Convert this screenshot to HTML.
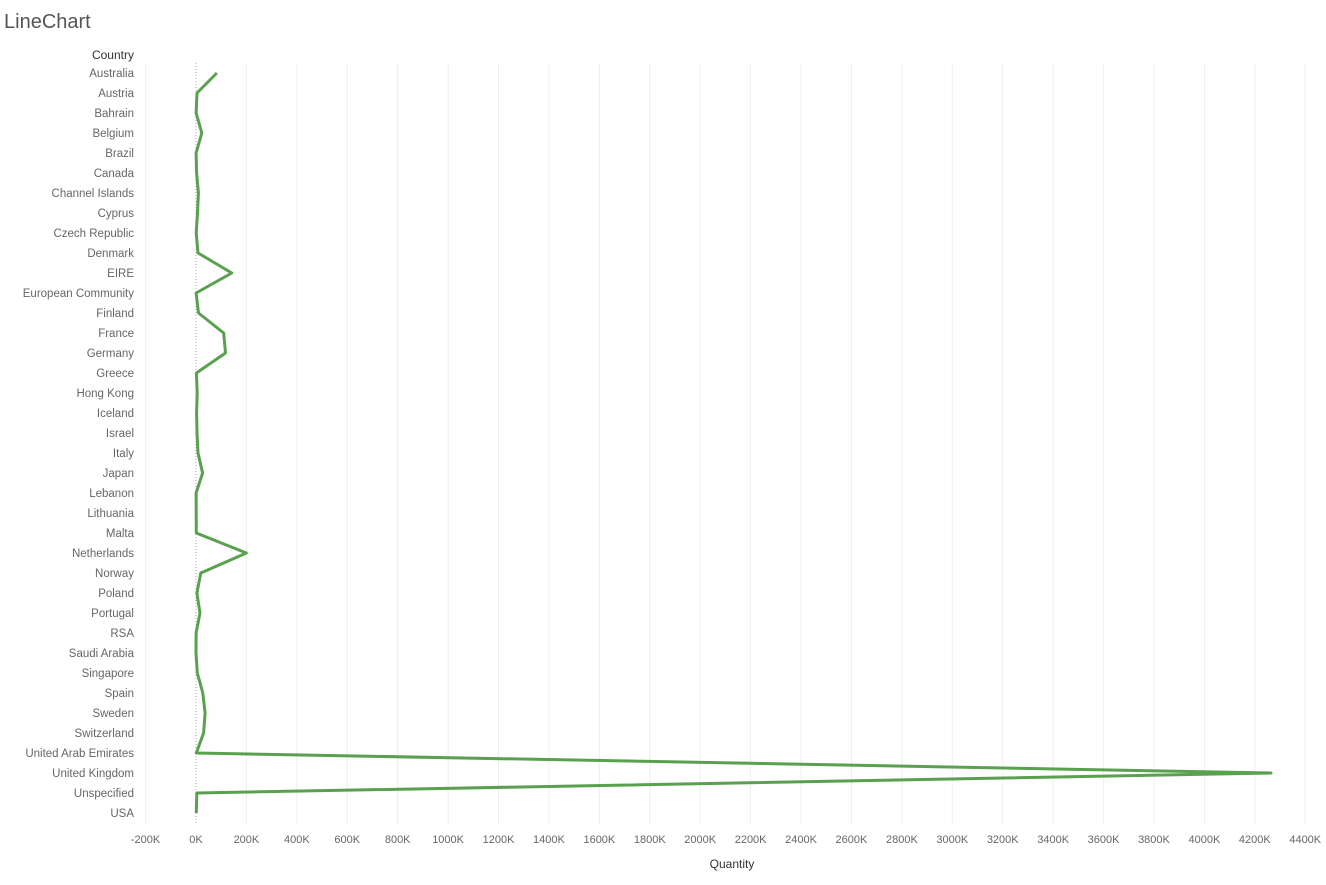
<!DOCTYPE html>
<html><head><meta charset="utf-8"><style>
body{margin:0;background:#fff;font-family:"Liberation Sans","DejaVu Sans",sans-serif;}
svg text{font-family:"Liberation Sans","DejaVu Sans",sans-serif;}
</style></head><body>
<svg id="c" width="1326" height="880">
<text x="4" y="28" font-size="20" fill="#555">LineChart</text>
<text x="134" y="59" font-size="12" fill="#333" text-anchor="end">Country</text>
<text x="732" y="868" font-size="12" fill="#333" text-anchor="middle">Quantity</text>
<g id="grid"></g><g id="ylab"></g><g id="xlab"></g><g id="series"></g>
</svg>
<script>
const countries=["Australia","Austria","Bahrain","Belgium","Brazil","Canada","Channel Islands","Cyprus","Czech Republic","Denmark","EIRE","European Community","Finland","France","Germany","Greece","Hong Kong","Iceland","Israel","Italy","Japan","Lebanon","Lithuania","Malta","Netherlands","Norway","Poland","Portugal","RSA","Saudi Arabia","Singapore","Spain","Sweden","Switzerland","United Arab Emirates","United Kingdom","Unspecified","USA"];
const quantity=[83,4,0.3,23,0.4,2.4,9.5,6,0.6,8,142,0.5,10,110,117,1.6,4.7,2.5,4,8,26,0.4,0.65,1,200,19,3.6,16,0.35,0.08,5,27,36,30,1,4264,3.3,1];
const xTicks=[-200,0,200,400,600,800,1000,1200,1400,1600,1800,2000,2200,2400,2600,2800,3000,3200,3400,3600,3800,4000,4200,4400];
const NS="http://www.w3.org/2000/svg";
const xs=v=>196+v*0.2521;
const ys=i=>73+i*20;
function mk(t,a,p){const e=document.createElementNS(NS,t);for(const k in a)e.setAttribute(k,a[k]);p.appendChild(e);return e;}
const grid=document.getElementById('grid'),xl=document.getElementById('xlab'),yl=document.getElementById('ylab'),sr=document.getElementById('series');
xTicks.forEach(t=>{
 const l=mk('line',{x1:xs(t),x2:xs(t),y1:63,y2:825,stroke:t===0?'#aaa':'#eee','stroke-width':1,'stroke-dasharray':t===0?'1,2':'none'},grid);
 
 
 const tx=mk('text',{x:xs(t),y:843,'font-size':11,fill:'#666','text-anchor':'middle'},xl);
 tx.textContent=t+'K';
 
 
});
countries.forEach((c,i)=>{
 const tx=mk('text',{x:134,y:ys(i)+4,'font-size':11.5,fill:'#666','text-anchor':'end'},yl);
 tx.textContent=c;
 
 
});
const pts=quantity.map((v,i)=>xs(v).toFixed(1)+','+ys(i)).join(' ');
const pl=mk('polyline',{points:pts,fill:'none',stroke:'#59a14f','stroke-width':3,'stroke-linejoin':'round'},sr);


</script>
</body></html>
